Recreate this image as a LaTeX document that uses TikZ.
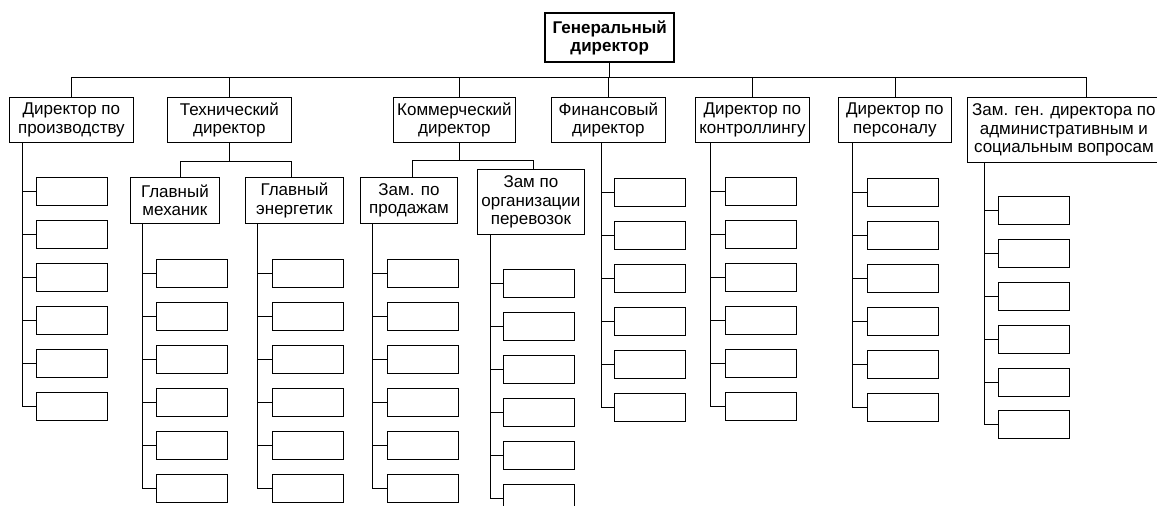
\documentclass[tikz,border=0pt]{standalone}
\usepackage{fontspec}
\setmainfont{Liberation Sans}
\newcommand{\fs}{\fontsize{17}{18.5}\selectfont}
\tikzset{
  box/.style={draw, line width=0.8pt, inner sep=0pt, anchor=north west, align=center, font=\fs},
  leaf/.style={draw, line width=0.8pt, inner sep=0pt, anchor=north west, minimum width=71pt, minimum height=28pt},
  wire/.style={line width=0.8pt},
}
\newcommand{\leafcol}[4]{%
  \foreach \yy [count=\k] in {#4} {
    \node[leaf] (#1\k) at (#3,\yy) {};
    \draw[wire] (#1\k.west) -- (#1\k.west -| #2);
  }
  \draw[wire] (#2) -- (#2 |- #16.west);
}
\begin{document}
\begin{tikzpicture}[x=1pt,y=-1pt]
\useasboundingbox (0,0) rectangle (1157,506);
\clip (0,0) rectangle (1157,506);
% top
\node[box, line width=2.4pt, font=\fs\bfseries, minimum width=129pt, minimum height=49pt] (gd) at (544,12) {Генеральный\\директор};
% level 1
\node[box, minimum width=124pt, minimum height=45pt] (d1) at (9,97) {Директор по\\производству};
\node[box, minimum width=124pt, minimum height=45pt] (d2) at (167,97) {Технический\\директор};
\node[box, minimum width=122pt, minimum height=45pt] (d3) at (393,97) {Коммерческий\\директор};
\node[box, minimum width=114pt, minimum height=45pt] (d4) at (551,97) {Финансовый\\директор};
\node[box, minimum width=114pt, minimum height=45pt] (d5) at (695,97) {Директор по\\контроллингу};
\node[box, minimum width=113pt, minimum height=45pt] (d6) at (838,97) {Директор по\\персоналу};
\node[box, minimum width=193pt, minimum height=65pt] (d7) at (967,97) {Зам. ген. директора по\\административным и\\социальным вопросам};
% level 2
\node[box, minimum width=89pt, minimum height=46pt] (m) at (130,177) {Главный\\механик};
\node[box, minimum width=98pt, minimum height=46pt] (e) at (245,177) {Главный\\энергетик};
\node[box, minimum width=97pt, minimum height=46pt] (s) at (360,177) {Зам. по\\продажам};
\node[box, minimum width=107pt, minimum height=65pt] (t) at (477,169) {Зам по\\организации\\перевозок};
% main bus
\coordinate (bus) at (0,77);
\coordinate (d3s) at ([xshift=5pt]d3.north);
\coordinate (d7s) at ([xshift=22.5pt]d7.north);
\draw[wire] (gd.south) -- (gd.south |- bus);
\draw[wire] (d1.north) -- (d1.north |- bus) -- (d7s |- bus) -- (d7s);
\draw[wire] (d2.north) -- (d2.north |- bus);
\draw[wire] (d3s) -- (d3s |- bus);
\draw[wire] (d4.north) -- (d4.north |- bus);
\draw[wire] (d5.north) -- (d5.north |- bus);
\draw[wire] (d6.north) -- (d6.north |- bus);
% technical sub-bus
\coordinate (tb) at (0,161);
\coordinate (ms) at ([xshift=5.5pt]m.north);
\coordinate (es) at ([xshift=-3pt]e.north);
\draw[wire] (d2.south) -- (d2.south |- tb);
\draw[wire] (ms) -- (ms |- tb) -- (es |- tb) -- (es);
% commercial sub-bus
\coordinate (cb) at (0,160);
\coordinate (d3b) at ([xshift=5pt]d3.south);
\coordinate (ss) at ([xshift=3.5pt]s.north);
\coordinate (ts) at ([xshift=2.5pt]t.north);
\draw[wire] (d3b) -- (d3b |- cb);
\draw[wire] (ss) -- (ss |- cb) -- (ts |- cb) -- (ts);
% spines
\coordinate (spA) at ([xshift=13pt]d1.south west);
\coordinate (spM) at ([xshift=12pt]m.south west);
\coordinate (spE) at ([xshift=12pt]e.south west);
\coordinate (spS) at ([xshift=12pt]s.south west);
\coordinate (spT) at ([xshift=13pt]t.south west);
\coordinate (spF) at ([xshift=50pt]d4.south west);
\coordinate (spC) at ([xshift=15pt]d5.south west);
\coordinate (spP) at ([xshift=14pt]d6.south west);
\coordinate (spZ) at ([xshift=17pt]d7.south west);
\leafcol{a}{spA}{36}{177,220,263,306,349,392}
\leafcol{mm}{spM}{156}{259,302,345,388,431,474}
\leafcol{ee}{spE}{272}{259,302,345,388,431,474}
\leafcol{ss}{spS}{387}{259,302,345,388,431,474}
\leafcol{tt}{spT}{503}{269,312,355,398,441,484}
\leafcol{ff}{spF}{614}{178,221,264,307,350,393}
\leafcol{cc}{spC}{725}{177,220,263,306,349,392}
\leafcol{pp}{spP}{867}{178,221,264,307,350,393}
\leafcol{zz}{spZ}{998}{196,239,282,325,368,410}
\end{tikzpicture}
\end{document}
